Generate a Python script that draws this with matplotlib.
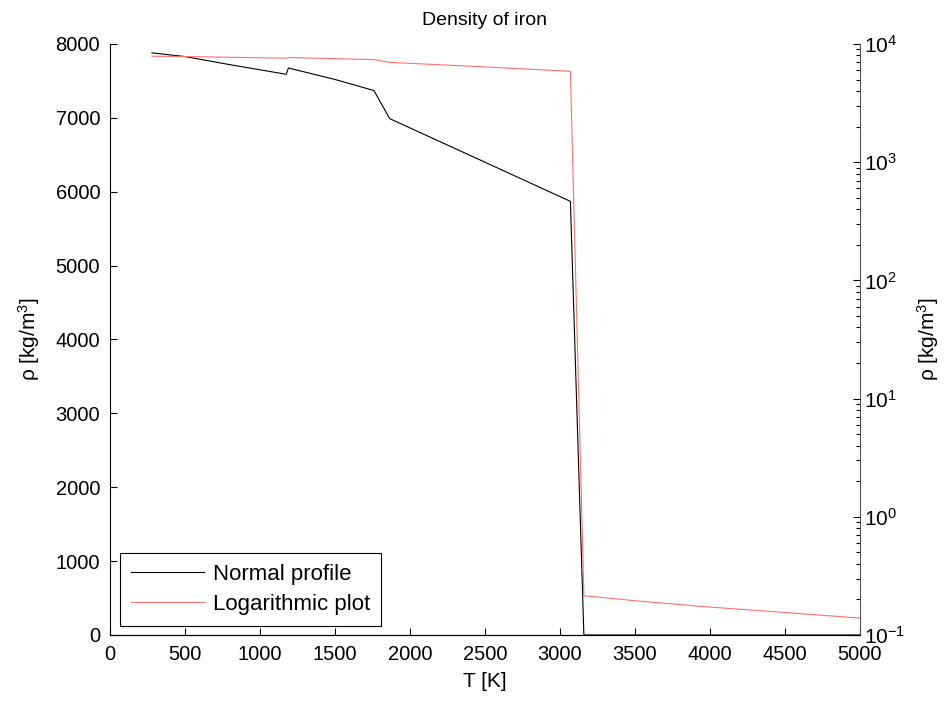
import matplotlib
matplotlib.use('Agg')
import matplotlib.pyplot as plt
import numpy as np

plt.rcParams['font.family'] = ['Liberation Sans', 'DejaVu Sans']
plt.rcParams['mathtext.default'] = 'regular'

# temperature [K] and density [kg/m^3]
temp = [280, 500, 800, 1175, 1190, 1500, 1760, 1865, 2500, 3070, 3160, 3500, 3980, 4500, 5000]
dens = [7880, 7830, 7720, 7590, 7675, 7520, 7370, 6990, 6400, 5870, 0.215, 0.195, 0.173, 0.155, 0.139]

fig = plt.figure(figsize=(9.48, 7.05), dpi=100)
ax1 = fig.add_axes([0.116, 0.0993, 0.791, 0.8383])
ax2 = ax1.twinx()

l1, = ax1.plot(temp, dens, color='black', linewidth=0.8, label='Normal profile')
l2, = ax2.plot(temp, dens, color='#FF7070', linewidth=0.8, label='Logarithmic plot')

ax1.set_xlim(0, 5000)
ax1.set_ylim(0, 8000)
ax1.set_xticks(np.arange(0, 5001, 500))
ax1.set_yticks(np.arange(0, 8001, 1000))
ax2.set_yscale('log')
ax2.set_ylim(0.1, 1e4)

for ax in (ax1, ax2):
    ax.spines['top'].set_visible(False)
    ax.tick_params(direction='in', labelsize=14.5, length=5, width=0.8, pad=7)
    ax.tick_params(which='minor', direction='in', length=3, width=0.8)
ax2.tick_params(axis='y', labelsize=15, pad=3)
ax1.spines['right'].set_visible(False)
ax2.spines['left'].set_visible(False)
ax2.spines['right'].set_color('#555555')

ax1.set_xlabel('T [K]', fontsize=15, labelpad=6)
ax1.set_ylabel(r'ρ [kg/m$^3$]', fontsize=15, labelpad=10)
ax2.set_ylabel(r'ρ [kg/m$^3$]', fontsize=15, labelpad=7, rotation=90)
ax1.set_title('Density of iron', fontsize=14, pad=14)

# legend box in the lower left corner
leg = ax1.legend([l1, l2], ['Normal profile', 'Logarithmic plot'], loc='lower left',
                 bbox_to_anchor=(0.013, 0.015), borderaxespad=0, fontsize=16,
                 fancybox=False, edgecolor='black', framealpha=1, handlelength=3.3,
                 borderpad=0.5, labelspacing=0.4, handletextpad=0.4)
leg.get_frame().set_linewidth(0.8)

plt.savefig('out.png', dpi=100)
